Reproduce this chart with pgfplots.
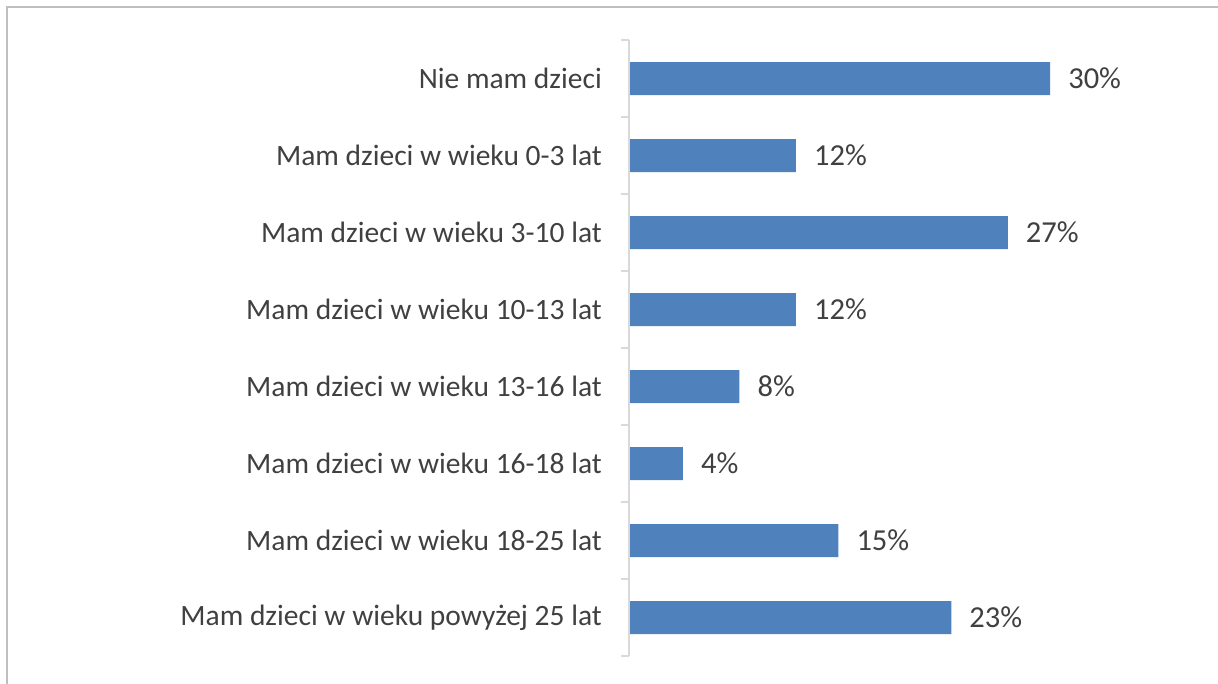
\documentclass[border=0pt]{standalone}
\usepackage{pgfplots}
\pgfplotsset{compat=1.18}
\usepackage{fontspec}
\setmainfont{Carlito}
\definecolor{barblue}{HTML}{4F81BD}
\definecolor{txt}{HTML}{404040}
\definecolor{axgray}{HTML}{D9D9D9}
\definecolor{framegray}{HTML}{BFBFBF}
\begin{document}
\begin{tikzpicture}[x=1pt,y=1pt]
\useasboundingbox (0,0) rectangle (1218,684);
\draw[framegray, line width=2pt] (7,-5) -- (7,677) -- (1225,677);
\begin{axis}[
  at={(629pt,28pt)}, anchor=south west,
  scale only axis, width=589pt, height=616pt,
  xmin=0.177, xmax=41.89,
  ymin=-0.5, ymax=7.5, y dir=reverse,
  axis x line=none,
  axis y line*=left,
  y axis line style={axgray, line width=1.5pt},
  ytick={0,...,7},
  yticklabels={Nie mam dzieci, Mam dzieci w wieku 0-3 lat, Mam dzieci w wieku 3-10 lat, Mam dzieci w wieku 10-13 lat, Mam dzieci w wieku 13-16 lat, Mam dzieci w wieku 16-18 lat, Mam dzieci w wieku 18-25 lat, Mam dzieci w wieku powyżej 25 lat},
  major tick length=0pt,
  minor ytick={-0.5,0.5,...,7.5},
  minor tick length=8pt,
  tick align=outside,
  minor tick style={axgray, line width=1.5pt},
  yticklabel style={font=\fontsize{29.5}{34}\selectfont, text=txt, anchor=east, inner sep=0pt, xshift=-27pt},
  xbar, bar width=33pt, bar shift=0pt,
  nodes near coords={\pgfmathprintnumber[assume math mode=true]{\pgfplotspointmeta}\%},
  point meta=x,
  nodes near coords style={font=\fontsize{30.5}{36}\selectfont, text=txt, anchor=west, inner sep=0pt, xshift=18pt},
  axis on top,
]
\addplot[fill=barblue, draw=none] coordinates {
  (30,0) (12,1) (27,2) (12,3) (8,4) (4,5) (15,6) (23,7)
};
\end{axis}
\end{tikzpicture}
\end{document}
